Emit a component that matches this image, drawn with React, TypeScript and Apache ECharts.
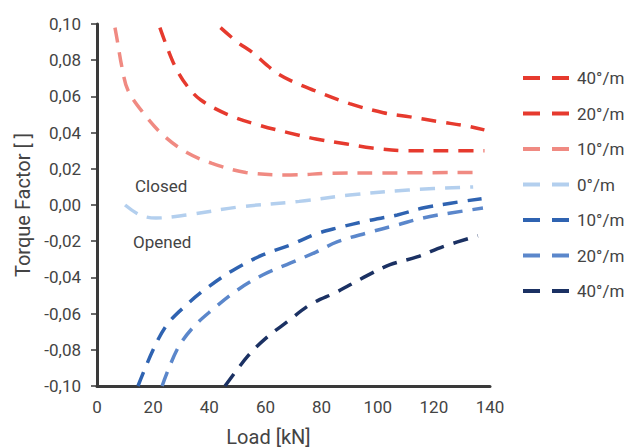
import React, { useEffect, useRef } from "react";
import * as echarts from "echarts";

const red40Load = [44, 50, 55.6, 60, 64, 70, 77, 90, 102, 111.5, 122, 131.8, 138];
const red40Tf = [0.098, 0.09, 0.084, 0.078, 0.073, 0.068, 0.0635, 0.056, 0.051, 0.0487, 0.046, 0.0436, 0.0415];

const red20Load = [22.4, 25, 28, 32, 37, 47, 58, 68, 78, 89, 98, 111, 128, 138];
const red20Tf = [0.098, 0.087, 0.076, 0.066, 0.058, 0.0497, 0.044, 0.04, 0.0365, 0.0337, 0.0315, 0.03, 0.03, 0.03];

const red10Load = [6.4, 7.1, 8.9, 11, 16.4, 23.5, 32, 41, 53, 69, 83, 102, 135];
const red10Tf = [0.098, 0.092, 0.076, 0.0635, 0.051, 0.0387, 0.029, 0.023, 0.018, 0.0166, 0.0175, 0.0177, 0.018];

const zeroLoad = [10, 15.3, 21, 32, 51, 72, 90, 111, 134];
const zeroTf = [0, -0.0055, -0.0072, -0.0055, -0.001, 0.002, 0.0055, 0.0083, 0.01];

const blue10Load = [14.6, 20, 25, 32, 39, 48.5, 59, 69, 78, 85.5, 96, 107, 116, 126, 137];
const blue10Tf = [-0.1, -0.08, -0.066, -0.055, -0.046, -0.036, -0.0276, -0.022, -0.016, -0.0127, -0.0088, -0.0055, -0.0017, 0.001, 0.0035];

const blue20Load = [23.2, 28.5, 34, 41, 50, 59, 69, 78, 85.5, 96, 107, 116, 126, 137.5];
const blue20Tf = [-0.1, -0.08, -0.068, -0.058, -0.047, -0.0387, -0.032, -0.026, -0.0204, -0.0155, -0.011, -0.0072, -0.0044, -0.0017];

const navy40Load = [45.6, 54, 60.6, 67.7, 76, 85.5, 95, 104.4, 114, 123.3, 135.7];
const navy40Tf = [-0.1, -0.083, -0.073, -0.0646, -0.055, -0.048, -0.04, -0.033, -0.0287, -0.023, -0.017];

const seriesDefs = [
  { name: "40°/m closed", label: "40°/m", color: "#e63a2e", load: red40Load, tf: red40Tf },
  { name: "20°/m closed", label: "20°/m", color: "#e63a2e", load: red20Load, tf: red20Tf },
  { name: "10°/m closed", label: "10°/m", color: "#f08a82", load: red10Load, tf: red10Tf },
  { name: "0°/m", label: "0°/m", color: "#b3cfee", load: zeroLoad, tf: zeroTf },
  { name: "10°/m opened", label: "10°/m", color: "#2f63b1", load: blue10Load, tf: blue10Tf },
  { name: "20°/m opened", label: "20°/m", color: "#5b87cb", load: blue20Load, tf: blue20Tf },
  { name: "40°/m opened", label: "40°/m", color: "#1b3163", load: navy40Load, tf: navy40Tf },
];

const FONT = "Roboto";
const TEXT = "#444444";
const DASH_ICON = "path://M0,0h17v4h-17z M29,0h17v4h-17z";

export default function App() {
  const ref = useRef<HTMLDivElement>(null);
  useEffect(() => {
    if (!ref.current) return;
    const chart = echarts.init(ref.current, null, { renderer: "svg" });
    const labelMap: Record<string, string> = {};
    seriesDefs.forEach((s) => (labelMap[s.name] = s.label));
    chart.setOption({
      animation: false,
      backgroundColor: "#ffffff",
      grid: { left: 97, right: 140, top: 24, bottom: 62, outerBoundsMode: "none", containLabel: false },
      xAxis: {
        type: "value",
        min: 0,
        max: 140,
        interval: 20,
        name: "Load [kN]",
        nameLocation: "middle",
        nameGap: 41,
        nameTextStyle: { fontFamily: FONT, fontSize: 20, color: TEXT, padding: [0, 50, 0, 0] },
        axisLine: { show: true, onZero: false, lineStyle: { color: "#3a3a3a", width: 3 } },
        axisTick: { show: false },
        splitLine: { show: false },
        axisLabel: { fontFamily: FONT, fontSize: 17, color: TEXT, margin: 12 },
      },
      yAxis: {
        type: "value",
        min: -0.1,
        max: 0.1,
        interval: 0.02,
        name: "Torque Factor [ ]",
        nameLocation: "middle",
        nameGap: 54,
        nameTextStyle: { fontFamily: FONT, fontSize: 20, color: TEXT },
        axisLine: { show: true, onZero: false, lineStyle: { color: "#3a3a3a", width: 3 } },
        axisTick: { show: true, length: 6, lineStyle: { color: "#3a3a3a", width: 1.5 } },
        splitLine: { show: false },
        axisLabel: {
          fontFamily: FONT,
          fontSize: 17,
          color: TEXT,
          margin: 16,
          formatter: (v: number) => {
            const r = Math.round(v * 100) / 100;
            const s = Math.abs(r).toFixed(2).replace(".", ",");
            return r < 0 ? "-" + s : s;
          },
        },
      },
      legend: {
        orient: "vertical",
        left: 518,
        top: 64,
        itemWidth: 46,
        itemHeight: 4,
        itemGap: 17.5,
        icon: DASH_ICON,
        symbolKeepAspect: false,
        formatter: (n: string) => labelMap[n] || n,
        textStyle: { fontFamily: FONT, fontSize: 17, lineHeight: 18, color: TEXT, padding: [0, 0, 0, 3] },
        data: seriesDefs.map((s) => s.name),
      },
      graphic: [
        { type: "text", left: 135, top: 177, style: { text: "Closed", fontFamily: FONT, fontSize: 17, fill: TEXT } },
        { type: "text", left: 133, top: 233, style: { text: "Opened", fontFamily: FONT, fontSize: 17, fill: TEXT } },
      ],
      series: seriesDefs.map((s) => ({
        name: s.name,
        type: "line",
        smooth: 0.35,
        showSymbol: false,
        symbol: "none",
        clip: true,
        color: s.color,
        itemStyle: { color: s.color },
        lineStyle: { color: s.color, width: 3.5, type: [15, 10], cap: "butt" },
        data: s.load.map((x, i) => [x, s.tf[i]]),
      })),
    });
    return () => chart.dispose();
  }, []);
  return <div ref={ref} style={{ width: 630, height: 448, position: "absolute", left: 0, top: 0 }} />;
}
